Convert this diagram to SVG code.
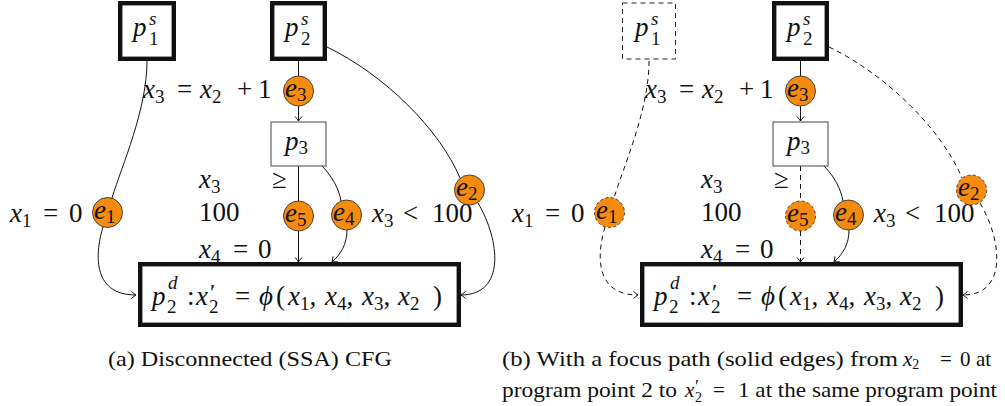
<svg xmlns="http://www.w3.org/2000/svg" width="1005" height="406" viewBox="0 0 1005 406">
<style>
text{fill:#111}
.m{font-size:27px}
.i{font-style:italic}
.s{font-size:19px}
.pr{font-size:24px}
.edge{fill:none;stroke:#111;stroke-width:1}
.dash{stroke-dasharray:5,4}
.thick{fill:#fff;stroke:#111;stroke-width:4.4}
.thin{fill:#fff;stroke:#555;stroke-width:1.1}
.thind{fill:#fff;stroke:#222;stroke-width:1;stroke-dasharray:5,4}
.circ{fill:#F68B0D;stroke:#333;stroke-width:0.9}
.circd{fill:#F68B0D;stroke:#333;stroke-width:0.9;stroke-dasharray:3,2.5}
.cap{font-size:21px}
</style>
<defs>
<marker id="ah" viewBox="-6 -5 7 10" refX="0" refY="0" markerWidth="7" markerHeight="10" markerUnits="userSpaceOnUse" orient="auto">
<path d="M-4.5,-3.5 Q-1.2,-0.6 0,0 Q-1.2,0.6 -4.5,3.5" fill="none" stroke="#111" stroke-width="1"/>
</marker>
</defs>

<!-- Panel (a) -->
<g id="panel-a">
<g id="a-connectors">
<path class="edge" d="M147,61 C147,110 122,165 112,198"/>
<path class="edge" d="M103,227 C96,250 90,295 136,295" marker-end="url(#ah)"/>
<path class="edge" d="M298.5,61 L298.5,76"/>
<path class="edge" d="M298.5,106 L298.5,121" marker-end="url(#ah)"/>
<path class="edge" d="M298.5,166 L298.5,201"/>
<path class="edge" d="M298.5,231 L298.5,262" marker-end="url(#ah)"/>
<path class="edge" d="M322,166 C332,176 339,189 341,201"/>
<path class="edge" d="M347,230 C347,244 341,254 332,262" marker-end="url(#ah)"/>
<path class="edge" d="M327,47 C385,75 440,130 460,178"/>
<path class="edge" d="M478,203 C500,240 506,295 461,295" marker-end="url(#ah)"/>
<text font-family="Liberation Serif" class="m" y="98"><tspan class="i" x="143">x</tspan><tspan class="s" dy="5">3</tspan><tspan x="177" dy="-5">=</tspan><tspan class="i" x="200">x</tspan><tspan class="s" dy="5">2</tspan><tspan x="237" dy="-5">+</tspan><tspan x="258">1</tspan></text>
<text font-family="Liberation Serif" class="m" y="222"><tspan class="i" x="10">x</tspan><tspan class="s" dy="5">1</tspan><tspan x="43" dy="-5">=</tspan><tspan x="69">0</tspan></text>
<text font-family="Liberation Serif" class="m" y="188"><tspan class="i" x="199">x</tspan><tspan class="s" dy="5">3</tspan><tspan x="272" dy="-5">≥</tspan></text>
<text font-family="Liberation Serif" class="m" x="199" y="221">100</text>
<text font-family="Liberation Serif" class="m" y="258"><tspan class="i" x="199">x</tspan><tspan class="s" dy="5">4</tspan><tspan x="233" dy="-5">=</tspan><tspan x="258">0</tspan></text>
<text font-family="Liberation Serif" class="m" y="222"><tspan class="i" x="372">x</tspan><tspan class="s" dy="5">3</tspan><tspan x="403" dy="-5">&lt;</tspan><tspan x="432">100</tspan></text>
</g>
<g id="a-p1s"><rect class="thick" x="120.2" y="3.2" width="53.6" height="55.6"/><text font-family="Liberation Serif" class="m"><tspan class="i" x="133" y="36">p</tspan><tspan class="s i" x="149" y="25">s</tspan><tspan class="s" x="149" y="45">1</tspan></text></g>
<g id="a-p2s"><rect class="thick" x="272.2" y="3.2" width="52.6" height="55.6"/><text font-family="Liberation Serif" class="m"><tspan class="i" x="285" y="36">p</tspan><tspan class="s i" x="301" y="25">s</tspan><tspan class="s" x="301" y="45">2</tspan></text></g>
<g id="a-p3"><rect class="thin" x="271" y="122" width="55" height="44"/><text font-family="Liberation Serif" class="m" y="150"><tspan class="i" x="285">p</tspan><tspan class="s" dy="4">3</tspan></text></g>
<g id="a-p2d"><rect class="thick" x="140.2" y="264.2" width="318.6" height="60.6"/>
<text font-family="Liberation Serif" class="m" y="305"><tspan class="i" x="152">p</tspan><tspan class="s i" x="168" y="289">d</tspan><tspan class="s" x="167" y="313">2</tspan><tspan x="187" y="305">:</tspan><tspan class="i" x="196">x</tspan><tspan class="pr" x="210" y="300">′</tspan><tspan class="s" x="209" y="313">2</tspan><tspan x="235" y="305">=</tspan><tspan class="i" x="259">ϕ</tspan><tspan x="276">(</tspan><tspan class="i" x="288">x</tspan><tspan class="s" dy="5">1</tspan><tspan dy="-5">,</tspan><tspan class="i" x="325">x</tspan><tspan class="s" dy="5">4</tspan><tspan dy="-5">,</tspan><tspan class="i" x="362">x</tspan><tspan class="s" dy="5">3</tspan><tspan dy="-5">,</tspan><tspan class="i" x="398">x</tspan><tspan class="s" dy="5">2</tspan><tspan x="433" dy="-5">)</tspan></text></g>
<g id="a-e1"><circle class="circ" cx="107.5" cy="212.5" r="15"/><text font-family="Liberation Serif" class="m" y="218.5"><tspan class="i" x="94">e</tspan><tspan class="s" dy="4">1</tspan></text></g>
<g id="a-e2"><circle class="circ" cx="469.5" cy="190" r="15"/><text font-family="Liberation Serif" class="m" y="196"><tspan class="i" x="456">e</tspan><tspan class="s" dy="4">2</tspan></text></g>
<g id="a-e3"><circle class="circ" cx="298.5" cy="91" r="15"/><text font-family="Liberation Serif" class="m" y="97"><tspan class="i" x="285">e</tspan><tspan class="s" dy="4">3</tspan></text></g>
<g id="a-e4"><circle class="circ" cx="346.5" cy="215" r="15"/><text font-family="Liberation Serif" class="m" y="221"><tspan class="i" x="333">e</tspan><tspan class="s" dy="4">4</tspan></text></g>
<g id="a-e5"><circle class="circ" cx="298.5" cy="216" r="15"/><text font-family="Liberation Serif" class="m" y="222"><tspan class="i" x="285">e</tspan><tspan class="s" dy="4">5</tspan></text></g>
</g>

<!-- Panel (b) -->
<g id="panel-b" transform="translate(502,0)">
<g id="b-connectors">
<path class="edge dash" d="M147,61 C147,110 122,165 112,198"/>
<path class="edge dash" d="M103,227 C96,250 90,295 136,295" marker-end="url(#ah)"/>
<path class="edge" d="M298.5,61 L298.5,76"/>
<path class="edge" d="M298.5,106 L298.5,121" marker-end="url(#ah)"/>
<path class="edge dash" d="M298.5,166 L298.5,201"/>
<path class="edge dash" d="M298.5,231 L298.5,262" marker-end="url(#ah)"/>
<path class="edge" d="M322,166 C332,176 339,189 341,201"/>
<path class="edge" d="M347,230 C347,244 341,254 332,262" marker-end="url(#ah)"/>
<path class="edge dash" d="M327,47 C385,75 440,130 460,178"/>
<path class="edge dash" d="M478,203 C500,240 506,295 461,295" marker-end="url(#ah)"/>
<text font-family="Liberation Serif" class="m" y="98"><tspan class="i" x="143">x</tspan><tspan class="s" dy="5">3</tspan><tspan x="177" dy="-5">=</tspan><tspan class="i" x="200">x</tspan><tspan class="s" dy="5">2</tspan><tspan x="237" dy="-5">+</tspan><tspan x="258">1</tspan></text>
<text font-family="Liberation Serif" class="m" y="222"><tspan class="i" x="10">x</tspan><tspan class="s" dy="5">1</tspan><tspan x="43" dy="-5">=</tspan><tspan x="69">0</tspan></text>
<text font-family="Liberation Serif" class="m" y="188"><tspan class="i" x="199">x</tspan><tspan class="s" dy="5">3</tspan><tspan x="272" dy="-5">≥</tspan></text>
<text font-family="Liberation Serif" class="m" x="199" y="221">100</text>
<text font-family="Liberation Serif" class="m" y="258"><tspan class="i" x="199">x</tspan><tspan class="s" dy="5">4</tspan><tspan x="233" dy="-5">=</tspan><tspan x="258">0</tspan></text>
<text font-family="Liberation Serif" class="m" y="222"><tspan class="i" x="372">x</tspan><tspan class="s" dy="5">3</tspan><tspan x="403" dy="-5">&lt;</tspan><tspan x="432">100</tspan></text>
</g>
<g id="b-p1s"><rect class="thind" x="120.5" y="3" width="53" height="56"/><text font-family="Liberation Serif" class="m"><tspan class="i" x="133" y="36">p</tspan><tspan class="s i" x="149" y="25">s</tspan><tspan class="s" x="149" y="45">1</tspan></text></g>
<g id="b-p2s"><rect class="thick" x="272.2" y="3.2" width="52.6" height="55.6"/><text font-family="Liberation Serif" class="m"><tspan class="i" x="285" y="36">p</tspan><tspan class="s i" x="301" y="25">s</tspan><tspan class="s" x="301" y="45">2</tspan></text></g>
<g id="b-p3"><rect class="thin" x="271" y="122" width="55" height="44"/><text font-family="Liberation Serif" class="m" y="150"><tspan class="i" x="285">p</tspan><tspan class="s" dy="4">3</tspan></text></g>
<g id="b-p2d"><rect class="thick" x="140.2" y="264.2" width="318.6" height="60.6"/>
<text font-family="Liberation Serif" class="m" y="305"><tspan class="i" x="152">p</tspan><tspan class="s i" x="168" y="289">d</tspan><tspan class="s" x="167" y="313">2</tspan><tspan x="187" y="305">:</tspan><tspan class="i" x="196">x</tspan><tspan class="pr" x="210" y="300">′</tspan><tspan class="s" x="209" y="313">2</tspan><tspan x="235" y="305">=</tspan><tspan class="i" x="259">ϕ</tspan><tspan x="276">(</tspan><tspan class="i" x="288">x</tspan><tspan class="s" dy="5">1</tspan><tspan dy="-5">,</tspan><tspan class="i" x="325">x</tspan><tspan class="s" dy="5">4</tspan><tspan dy="-5">,</tspan><tspan class="i" x="362">x</tspan><tspan class="s" dy="5">3</tspan><tspan dy="-5">,</tspan><tspan class="i" x="398">x</tspan><tspan class="s" dy="5">2</tspan><tspan x="433" dy="-5">)</tspan></text></g>
<g id="b-e1"><circle class="circd" cx="107.5" cy="212.5" r="15"/><text font-family="Liberation Serif" class="m" y="218.5"><tspan class="i" x="94">e</tspan><tspan class="s" dy="4">1</tspan></text></g>
<g id="b-e2"><circle class="circd" cx="469.5" cy="190" r="15"/><text font-family="Liberation Serif" class="m" y="196"><tspan class="i" x="456">e</tspan><tspan class="s" dy="4">2</tspan></text></g>
<g id="b-e3"><circle class="circ" cx="298.5" cy="91" r="15"/><text font-family="Liberation Serif" class="m" y="97"><tspan class="i" x="285">e</tspan><tspan class="s" dy="4">3</tspan></text></g>
<g id="b-e4"><circle class="circ" cx="346.5" cy="215" r="15"/><text font-family="Liberation Serif" class="m" y="221"><tspan class="i" x="333">e</tspan><tspan class="s" dy="4">4</tspan></text></g>
<g id="b-e5"><circle class="circd" cx="298.5" cy="216" r="15"/><text font-family="Liberation Serif" class="m" y="222"><tspan class="i" x="285">e</tspan><tspan class="s" dy="4">5</tspan></text></g>
</g>

<!-- Captions -->
<g id="captions">
<text font-family="Liberation Serif" class="cap" x="108" y="366" textLength="284" lengthAdjust="spacingAndGlyphs">(a) Disconnected (SSA) CFG</text>
<text font-family="Liberation Serif" class="cap" x="502" y="366" textLength="396" lengthAdjust="spacingAndGlyphs">(b) With a focus path (solid edges) from</text>
<text font-family="Liberation Serif" class="cap" y="366"><tspan class="i" x="903">x</tspan><tspan style="font-size:14px" dy="3">2</tspan><tspan x="940" dy="-3">=</tspan><tspan x="960">0</tspan><tspan x="976">at</tspan></text>
<text font-family="Liberation Serif" class="cap" x="502" y="397" textLength="175" lengthAdjust="spacingAndGlyphs">program point 2 to</text>
<text font-family="Liberation Serif" class="cap" y="397"><tspan class="i" x="685">x</tspan><tspan style="font-size:18px" x="695" y="393">′</tspan><tspan style="font-size:14px" x="695" y="402">2</tspan><tspan x="713" y="397">=</tspan></text>
<text font-family="Liberation Serif" class="cap" x="738" y="397" textLength="259" lengthAdjust="spacingAndGlyphs">1 at the same program point</text>
</g>
</svg>
